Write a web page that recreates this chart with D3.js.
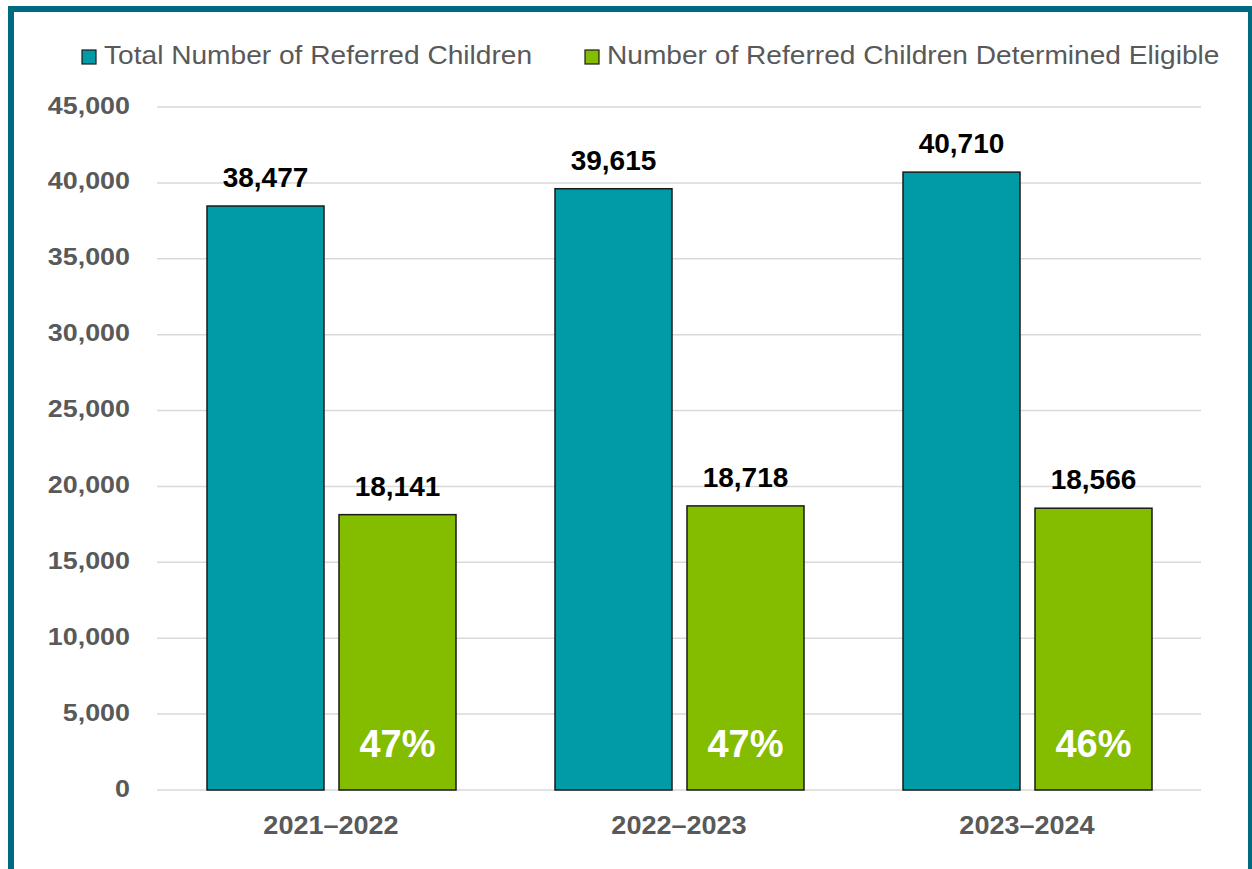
<!DOCTYPE html>
<html>
<head>
<meta charset="utf-8">
<script src="https://cdn.jsdelivr.net/npm/d3@7"></script>
<style>
body{margin:0;background:#fff;}
svg{display:block;font-family:"Liberation Sans",Arial,sans-serif;}
</style>
</head>
<body>
<div id="chart"></div>
<script>
// data
var years = ["2021\u20132022","2022\u20132023","2023\u20132024"];
var seriesNames = ["Total Number of Referred Children","Number of Referred Children Determined Eligible"];
var totalReferred = [38477, 39615, 40710];
var eligible = [18141, 18718, 18566];
var pctLabels = ["47%","47%","46%"];
var yTicks = [0,5000,10000,15000,20000,25000,30000,35000,40000,45000];

var W = 1252, H = 869;
var COLORS = ["#009BA6","#84BD00"];
var FRAME = "#006A80";

var svg = d3.select("#chart").append("svg")
    .attr("width",W)
    .attr("height",H);

svg.append("rect").attr("width",W).attr("height",H).style("fill","white");

// frame: top, left, right edges
svg.append("path")
    .attr("d","M11,"+H+" L11,9 L1251,9 L1251,"+H)
    .style("fill","none")
    .style("stroke",FRAME)
    .style("stroke-width",6);

var plot = {left:157, right:1201, top:107, bottom:790};

var x0 = d3.scaleBand()
    .domain(years)
    .range([plot.left, plot.right]);

var x1 = d3.scaleBand()
    .domain([0,1])
    .range([0, 249])
    .paddingInner(15/132);

var y = d3.scaleLinear()
    .domain([0,45000])
    .range([plot.bottom, plot.top]);

// grid
svg.append("g").selectAll("line")
    .data(yTicks)
    .enter().append("line")
    .attr("x1",plot.left).attr("x2",plot.right)
    .attr("y1",function(d){return y(d);})
    .attr("y2",function(d){return y(d);})
    .style("stroke","#d9d9d9")
    .style("stroke-width",1.5);

// y axis labels (reference text is a bit wide, so stretch horizontally)
var yAxis = d3.axisLeft(y).tickValues(yTicks).tickSize(0).tickPadding(0)
    .tickFormat(d3.format(","));
var ya = svg.append("g").attr("transform","translate(130,0)").call(yAxis);
ya.select(".domain").remove();
ya.selectAll(".tick text")
    .attr("x",0).attr("dy",null).attr("y",6)
    .attr("transform","scale(1.12,1)")
    .style("font-family","Liberation Sans, Arial, sans-serif")
    .style("font-size","24px")
    .style("font-weight","bold")
    .style("fill","#595959");

// x axis labels
var xAxis = d3.axisBottom(x0).tickSize(0).tickPadding(0);
var xa = svg.append("g").attr("transform","translate(0,834)").call(xAxis);
xa.select(".domain").remove();
xa.selectAll(".tick text")
    .attr("dy",null).attr("y",0)
    .attr("transform","scale(1.04,1)")
    .style("font-family","Liberation Sans, Arial, sans-serif")
    .style("font-size","26px")
    .style("font-weight","bold")
    .style("fill","#595959");

var data = years.map(function(yr,i){
    return {year:yr, values:[totalReferred[i], eligible[i]], pct:pctLabels[i]};
});

var groups = svg.selectAll(".grp")
    .data(data)
    .enter().append("g")
    .attr("class","grp")
    .attr("transform",function(d){
        return "translate("+(x0(d.year)+x0.bandwidth()/2-124)+",0)";
    });

var bars = groups.selectAll(".bar")
    .data(function(d){
        return d.values.map(function(v,k){return {v:v,k:k};});
    })
    .enter();

bars.append("rect")
    .attr("x",function(d){return x1(d.k);})
    .attr("width",x1.bandwidth())
    .attr("y",function(d){return y(d.v);})
    .attr("height",function(d){return y(0)-y(d.v);})
    .style("fill",function(d){return COLORS[d.k];})
    .style("stroke","#1a1a1a")
    .style("stroke-width",1.5);

bars.append("text")
    .attr("x",function(d){return x1(d.k)+x1.bandwidth()/2;})
    .attr("y",function(d){return y(d.v)-19;})
    .attr("text-anchor","middle")
    .style("font-size","28px")
    .style("font-weight","bold")
    .style("fill","#000")
    .text(function(d){return d3.format(",")(d.v);});

groups.append("text")
    .attr("x",x1(1)+x1.bandwidth()/2)
    .attr("y",757)
    .attr("text-anchor","middle")
    .style("font-size","38px")
    .style("font-weight","bold")
    .style("fill","white")
    .text(function(d){return d.pct;});

// legend
var legendX = [82, 585];
var legend = svg.selectAll(".leg")
    .data(seriesNames)
    .enter().append("g")
    .attr("class","leg")
    .attr("transform",function(d,i){return "translate("+legendX[i]+",50)";});

legend.append("rect")
    .attr("width",14).attr("height",14)
    .style("fill",function(d,i){return COLORS[i];})
    .style("stroke","#1a1a1a")
    .style("stroke-width",1.2);

legend.append("text")
    .attr("transform","translate(22,14) scale(1.125,1)")
    .style("font-size","25px")
    .style("fill","#595959")
    .text(function(d){return d;});
</script>
</body>
</html>
